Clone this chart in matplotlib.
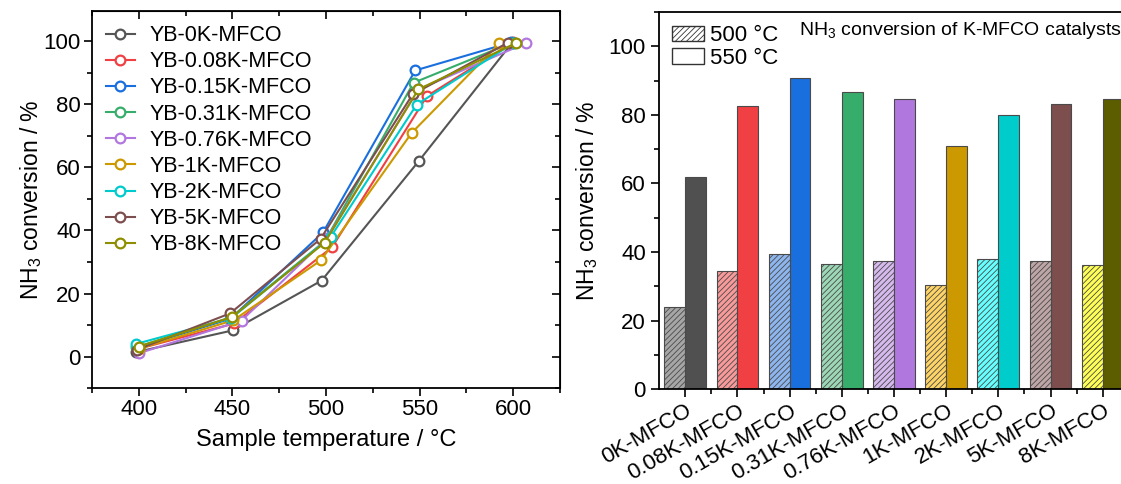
import numpy as np
import matplotlib.pyplot as plt
from matplotlib.patches import Patch
from matplotlib.ticker import MultipleLocator

plt.rcParams["font.family"] = ["Liberation Sans", "DejaVu Sans"]
plt.rcParams["mathtext.fontset"] = "custom"
plt.rcParams["mathtext.rm"] = "Liberation Sans"
plt.rcParams["mathtext.it"] = "Liberation Sans:italic"
plt.rcParams["hatch.linewidth"] = 0.6

samples = ["0K", "0.08K", "0.15K", "0.31K", "0.76K", "1K", "2K", "5K", "8K"]

# measured temperatures (°C) at each set point
temp_400 = [398.5, 400.0, 399.0, 398.8, 400.3, 400.0, 398.4, 399.0, 400.0]
temp_450 = [450.1, 451.0, 449.0, 449.5, 454.9, 450.5, 449.5, 448.8, 449.7]
temp_500 = [497.7, 503.2, 498.5, 499.5, 500.5, 497.3, 502.5, 497.1, 499.3]
temp_550 = [549.5, 554.0, 547.7, 546.8, 549.4, 545.8, 548.5, 546.3, 549.4]
temp_600 = [599.5, 600.0, 599.0, 599.5, 606.9, 592.7, 600.5, 597.2, 601.6]

# NH3 conversion (%)
conv_400 = [1.4, 2.5, 2.8, 3.0, 1.1, 2.5, 4.0, 2.2, 3.2]
conv_450 = [8.3, 10.5, 12.0, 12.5, 11.4, 11.5, 12.2, 13.7, 12.5]
conv_500 = [24.1, 34.6, 39.4, 36.6, 37.5, 30.5, 37.9, 37.3, 36.1]
conv_550 = [61.9, 82.6, 90.7, 86.8, 84.7, 70.9, 79.9, 83.1, 84.7]
conv_600 = [99.5, 99.6, 99.6, 99.5, 99.4, 99.3, 99.5, 99.5, 99.4]

line_colors = ["#555555", "#F04043", "#1A6FDF", "#37AD6B", "#B177DE",
               "#CC9900", "#00CBCC", "#7D4E4E", "#8E8E00"]
bar_dark = ["#505050", "#F04043", "#1A6FDF", "#37AD6B", "#B077DE",
            "#CC9900", "#00CCCC", "#7D4E4E", "#5C5C00"]
bar_light = ["#A6A6A6", "#F89A9A", "#8DB6EF", "#9CD7B6", "#D6BAEE",
             "#FFD466", "#66FFFF", "#BFA6A6", "#FFFF55"]

fig = plt.figure(figsize=(11.21, 4.84), dpi=100)

# ---- left: conversion vs temperature ----
ax1 = fig.add_axes([0.082, 0.198, 0.4175, 0.779])
temps = np.array([temp_400, temp_450, temp_500, temp_550, temp_600])
convs = np.array([conv_400, conv_450, conv_500, conv_550, conv_600])
for i, name in enumerate(samples):
    ax1.plot(temps[:, i], convs[:, i], "-o", color=line_colors[i], lw=1.5,
             ms=7, mfc="white", mec=line_colors[i], mew=1.6,
             label=f"YB-{name}-MFCO")

ax1.set_xlim(375, 625)
ax1.set_ylim(-10, 109.5)
ax1.xaxis.set_major_locator(MultipleLocator(50))
ax1.xaxis.set_minor_locator(MultipleLocator(25))
ax1.yaxis.set_major_locator(MultipleLocator(20))
ax1.yaxis.set_minor_locator(MultipleLocator(10))
ax1.tick_params(which="both", direction="out", width=1.2, labelsize=16, pad=2)
ax1.tick_params(which="major", length=6)
ax1.tick_params(which="minor", length=3.5)
for s in ax1.spines.values():
    s.set_linewidth(1.3)
ax1.set_xlabel("Sample temperature / °C", fontsize=17, labelpad=6)
ax1.set_ylabel("NH$_3$ conversion / %", fontsize=16.5)
ax1.yaxis.set_label_coords(-0.103, 0.5)

top = ax1.secondary_xaxis("top")
top.xaxis.set_major_locator(MultipleLocator(50))
top.xaxis.set_minor_locator(MultipleLocator(25))
top.tick_params(which="both", direction="in", labeltop=False, width=1.2)
top.tick_params(which="major", length=6)
top.tick_params(which="minor", length=3.5)
right = ax1.secondary_yaxis("right")
right.yaxis.set_major_locator(MultipleLocator(20))
right.yaxis.set_minor_locator(MultipleLocator(10))
right.tick_params(which="both", direction="in", labelright=False, width=1.2)
right.tick_params(which="major", length=6)
right.tick_params(which="minor", length=3.5)

ax1.legend(loc="upper left", frameon=False, fontsize=15.5, handlelength=1.35,
           labelspacing=0.24, borderaxespad=0.25, handletextpad=0.7)

# ---- right: bar chart ----
ax2 = fig.add_axes([0.588, 0.196, 0.419, 0.779])
x = np.arange(len(samples))
w = 0.4
ax2.bar(x - w / 2, conv_500, width=w, color=bar_light, edgecolor="#4a4a4a",
        linewidth=0.8, hatch="//////")
ax2.bar(x + w / 2, conv_550, width=w, color=bar_dark, edgecolor="#4a4a4a",
        linewidth=0.8)

ax2.set_xlim(-0.5, 8.5)
ax2.set_ylim(0, 110)
ax2.set_xticks(x)
ax2.set_xticks(x + 0.5, minor=True)
ax2.set_xticklabels([f"{s}-MFCO" for s in samples], rotation=30, ha="right",
                    rotation_mode="anchor", fontsize=16)
ax2.yaxis.set_major_locator(MultipleLocator(20))
ax2.yaxis.set_minor_locator(MultipleLocator(10))
ax2.tick_params(which="both", direction="out", width=1.2, labelsize=16)
ax2.tick_params(axis="x", labelsize=16, pad=2)
ax2.tick_params(which="major", length=6)
ax2.tick_params(which="minor", length=3.5)
for s in ax2.spines.values():
    s.set_linewidth(1.3)
ax2.set_ylabel("NH$_3$ conversion / %", fontsize=16.5)
ax2.yaxis.set_label_coords(-0.125, 0.5)
ax2.text(0.298, 0.952, "NH$_3$ conversion of K-MFCO catalysts",
         transform=ax2.transAxes, fontsize=14, va="center", ha="left")

handles = [Patch(facecolor="white", edgecolor="#333333", hatch="//////"),
           Patch(facecolor="white", edgecolor="#333333")]
ax2.legend(handles, ["500 °C", "550 °C"], loc="upper left", frameon=False,
           fontsize=16, handlelength=1.4, handleheight=0.7,
           labelspacing=0.05, borderaxespad=0.2, handletextpad=0.3)

fig.savefig("out.png", dpi=100)
